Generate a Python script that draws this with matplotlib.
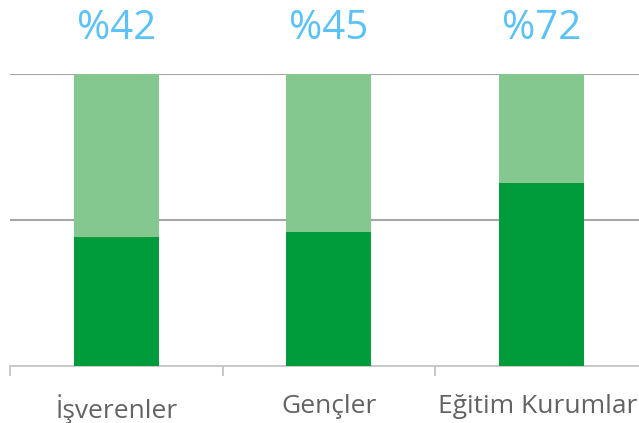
import matplotlib.pyplot as plt
from matplotlib.ticker import FixedLocator, NullFormatter

# veriler
kategoriler = ["İşverenler", "Gençler", "Eğitim Kurumları"]
etiketler = ["%42", "%45", "%72"]
koyu = [44.3, 45.9, 62.8]
acik = [100 - v for v in koyu]

KOYU_YESIL = "#009B3A"
ACIK_YESIL = "#85C88F"
MAVI = "#5BC2F7"
GRI = "#A6A6A6"

plt.rcParams["font.family"] = ["Open Sans", "DejaVu Sans"]

fig = plt.figure(figsize=(6.39, 4.23), dpi=100)
ax = fig.add_axes([10 / 639, 1 - 366 / 423, 1 - 10 / 639, (366 - 74) / 423])

x = range(len(kategoriler))
ax.bar(x, koyu, width=0.4, color=KOYU_YESIL, zorder=3)
ax.bar(x, acik, width=0.4, bottom=koyu, color=ACIK_YESIL, zorder=3)

ax.set_ylim(0, 100)
ax.set_xlim(-0.5, 2.5 - 8.5 / 212.5)

# yatay kılavuz çizgileri
for y in (50, 100):
    ax.axhline(y, color=GRI, linewidth=1.5, zorder=1)

for s in ("top", "right", "left"):
    ax.spines[s].set_visible(False)
ax.spines["bottom"].set_color("#BFBFBF")
ax.spines["bottom"].set_linewidth(1.2)
ax.set_yticks([])

# kategori sınırlarında çentikler, ortada etiketler
ax.xaxis.set_major_locator(FixedLocator([-0.5, 0.5, 1.5]))
ax.xaxis.set_major_formatter(NullFormatter())
ax.tick_params(axis="x", which="major", length=7, width=1.2, color="#BFBFBF")
ax.xaxis.set_minor_locator(FixedLocator(list(x)))
ax.set_xticklabels(kategoriler, minor=True)
ax.tick_params(axis="x", which="minor", length=0, pad=20,
               labelsize=19, labelcolor="#636363")

for i, t in enumerate(etiketler):
    ax.text(i, 115.5, t, ha="center", va="center", fontsize=29,
            color=MAVI, clip_on=False)

fig.savefig("out.png", dpi=100)
